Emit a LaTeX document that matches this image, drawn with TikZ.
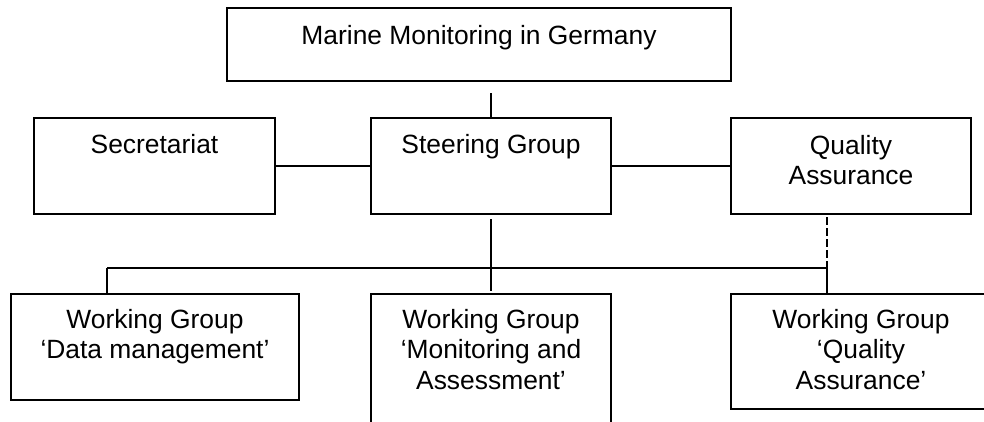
\documentclass[tikz,border=0pt]{standalone}
\usepackage{fontspec}
\setmainfont{Liberation Sans}
\usetikzlibrary{calc}
% centred lines whose baseline is that of the first line
\newcommand{\toplines}[1]{\begin{tabular}[t]{@{}c@{}}#1\end{tabular}}
\begin{document}
\begin{tikzpicture}[x=1pt,y=-1pt,
  box/.style={draw=black, line width=2pt, rectangle, inner sep=0pt},
  lbl/.style={anchor=base, inner sep=0pt, text=black,
    font=\fontsize{26.4pt}{30.5pt}\selectfont},
  link/.style={draw=black, line width=2pt},
  dashlink/.style={link, dash pattern=on 7.5pt off 3.5pt}]
\useasboundingbox (0,0) rectangle (984,421);

% boxes
\node[box, minimum width=504pt, minimum height=73pt] (top) at (479,44.5) {};
\node[box, minimum width=241pt, minimum height=96pt] (sec) at (154.5,166) {};
\node[box, minimum width=240pt, minimum height=96pt] (sg)  at (491,166) {};
\node[box, minimum width=240pt, minimum height=96pt] (qa)  at (851,166) {};
\node[box, minimum width=288pt, minimum height=106pt] (wg1) at (155,347) {};
\node[box, minimum width=240pt, minimum height=160pt] (wg2) at (491,374) {};
\node[box, minimum width=260pt, minimum height=115pt] (wg3) at (861,351.5) {};

% labels
\node[lbl] (topt) at ($(top.north)+(0,37)$) {Marine Monitoring in Germany};
\node[lbl] (sect) at ($(sec.north)+(0,36)$) {Secretariat};
\node[lbl] (sgt)  at ($(sg.north)+(0,36)$) {Steering Group};
\node[lbl] (qat)  at ($(qa.north)+(0,37)$) {\toplines{Quality\\Assurance}};
\node[lbl] (wg1t) at ($(wg1.north)+(0,35)$) {\toplines{Working Group\\‘Data management’}};
\node[lbl] (wg2t) at ($(wg2.north)+(0,35)$) {\toplines{Working Group\\‘Monitoring and\\Assessment’}};
\node[lbl] (wg3t) at ($(wg3.north)+(0,35)$) {\toplines{Working Group\\‘Quality\\Assurance’}};

% junction points
\coordinate (stub) at (491,93);
\coordinate (sgend) at (491,291);
\coordinate (busl) at (107,268);
\coordinate (busr) at (827,268);
\coordinate (qadash) at (827,217);

% connectors
\draw[link] (stub) -- (sg.north);
\draw[link] (sec.east) -- (sg.west);
\draw[link] (sg.east) -- (qa.west);
\draw[link] ($(sg.south)+(0,4)$) -- (sgend);
\draw[link] (busl) -- (busr);
\draw[link] (busl) -- (wg1.north -| busl);
\draw[link] (busr) -- (wg3.north -| busr);
\draw[dashlink] (qadash) -- (busr);
\end{tikzpicture}
\end{document}
